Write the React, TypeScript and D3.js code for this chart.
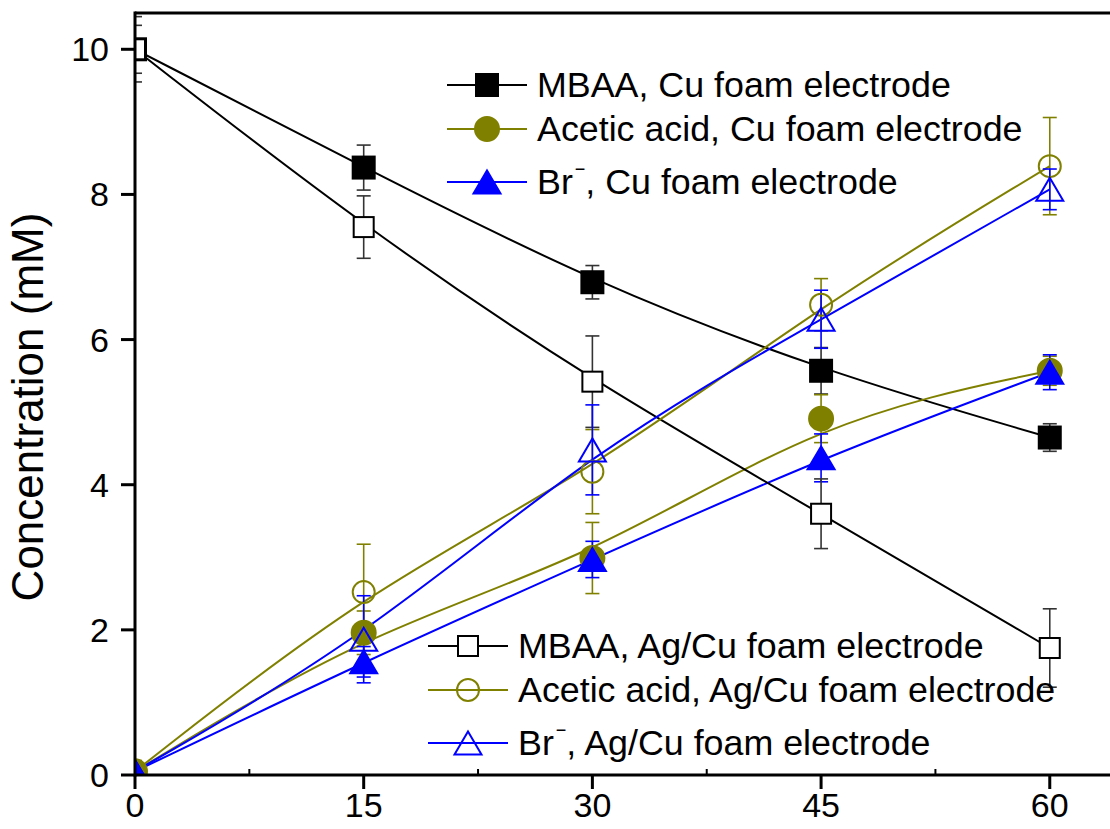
import React from 'react';
import * as d3 from 'd3';

const times = [0, 15, 30, 45, 60];
const xTicks = [0, 15, 30, 45, 60];
const xMinorTicks = [7.5, 22.5, 37.5, 52.5];
const yTicks = [0, 2, 4, 6, 8, 10];

const mbaaCu = [10, 8.37, 6.79, 5.57, 4.65];
const mbaaCuErr = [0.45, 0.31, 0.23, 0.32, 0.19];
const aceticCu = [0.05, 1.96, 2.99, 4.91, 5.57];
const aceticCuErr = [0.15, 0.3, 0.49, 0.33, 0.2];
const brCu = [0.05, 1.56, 2.97, 4.37, 5.55];
const brCuErr = [0.1, 0.21, 0.25, 0.33, 0.24];
const mbaaAg = [10, 7.55, 5.42, 3.6, 1.75];
const mbaaAgErr = [0.33, 0.43, 0.63, 0.48, 0.54];
const aceticAg = [0.05, 2.52, 4.18, 6.48, 8.39];
const aceticAgErr = [0.1, 0.66, 0.58, 0.36, 0.67];
const brAg = [0.05, 1.87, 4.48, 6.28, 8.07];
const brAgErr = [0.1, 0.6, 0.62, 0.4, 0.28];

type Shape = 'square' | 'circle' | 'triangle';

interface Series {
  name: string;
  sup?: string;
  rest?: string;
  values: number[];
  errors: number[];
  color: string;
  shape: Shape;
  filled: boolean;
}

const series: Series[] = [
  { name: 'MBAA, Cu foam electrode', values: mbaaCu, errors: mbaaCuErr, color: '#000000', shape: 'square', filled: true },
  { name: 'Acetic acid, Cu foam electrode', values: aceticCu, errors: aceticCuErr, color: '#808000', shape: 'circle', filled: true },
  { name: 'Br', sup: '\u2212', rest: ', Cu foam electrode', values: brCu, errors: brCuErr, color: '#0000ff', shape: 'triangle', filled: true },
  { name: 'MBAA, Ag/Cu foam electrode', values: mbaaAg, errors: mbaaAgErr, color: '#000000', shape: 'square', filled: false },
  { name: 'Acetic acid, Ag/Cu foam electrode', values: aceticAg, errors: aceticAgErr, color: '#808000', shape: 'circle', filled: false },
  { name: 'Br', sup: '\u2212', rest: ', Ag/Cu foam electrode', values: brAg, errors: brAgErr, color: '#0000ff', shape: 'triangle', filled: false },
];

const width = 1110;
const height = 829;
const margin = { top: 13, right: -16, bottom: 54, left: 135 };

const x = d3.scaleLinear().domain([0, 65]).range([margin.left, width - margin.right]);
const y = d3.scaleLinear().domain([0, 10.5]).range([height - margin.bottom, margin.top]);

const FONT = '"Liberation Sans", Arial, sans-serif';

const Marker: React.FC<{ cx: number; cy: number; s: Series }> = ({ cx, cy, s }) => {
  const fill = s.filled ? s.color : s.shape === 'square' ? '#ffffff' : 'none';
  if (s.shape === 'square') {
    const a = s.filled ? 22 : 20;
    return <rect x={cx - a / 2} y={cy - a / 2} width={a} height={a} fill={fill} stroke={s.color} strokeWidth={2} />;
  }
  if (s.shape === 'circle') {
    return <circle cx={cx} cy={cy} r={s.filled ? 12 : 11} fill={fill} stroke={s.color} strokeWidth={2} />;
  }
  const w = 27;
  const h = 23;
  const pts = `${cx},${cy - h / 2} ${cx + w / 2},${cy + h / 2} ${cx - w / 2},${cy + h / 2}`;
  return <polygon points={pts} fill={fill} stroke={s.color} strokeWidth={2} strokeLinejoin="miter" />;
};

const LegendLabel: React.FC<{ s: Series; tx: number; ty: number }> = ({ s, tx, ty }) => (
  <text x={tx} y={ty} fontSize={35.8} fontFamily={FONT} fill="#000">
    {s.sup ? (
      <>
        <tspan>{s.name}</tspan>
        <tspan fontSize={18} dy={-19} dx={2}>{s.sup}</tspan>
        <tspan dy={19}>{s.rest}</tspan>
      </>
    ) : (
      s.name
    )}
  </text>
);

const App: React.FC = () => {
  const line = d3
    .line<number>()
    .x((_, i) => x(times[i]))
    .y((d) => y(d))
    .curve(d3.curveBasis);

  const plotLeft = margin.left;
  const plotTop = margin.top;
  const plotBottom = height - margin.bottom;

  const legendTop = [85, 129, 182];
  const legendBottom = [646, 690, 743];

  return (
    <svg width={width} height={height} style={{ position: 'absolute', left: 0, top: 0, background: '#fff' }}>
      <defs>
        <clipPath id="plot-clip">
          <rect x={plotLeft} y={plotTop} width={width - plotLeft} height={plotBottom - plotTop} />
        </clipPath>
      </defs>
      <rect x={0} y={0} width={width} height={height} fill="#fff" />

      <g clipPath="url(#plot-clip)">
        {series.map((s, k) => (
          <path key={`l${k}`} d={line(s.values) || ''} fill="none" stroke={s.color} strokeWidth={2} />
        ))}
        {series.map((s, k) => (
          <g key={`e${k}`} stroke={s.color === '#000000' ? '#333333' : s.color} strokeWidth={1.6}>
            {s.values.map((v, i) => {
              const cx = x(times[i]);
              const y1 = y(v + s.errors[i]);
              const y2 = y(v - s.errors[i]);
              return (
                <g key={i}>
                  <line x1={cx} x2={cx} y1={y1} y2={y2} />
                  <line x1={cx - 7} x2={cx + 7} y1={y1} y2={y1} />
                  <line x1={cx - 7} x2={cx + 7} y1={y2} y2={y2} />
                </g>
              );
            })}
          </g>
        ))}
        {series.map((s, k) => (
          <g key={`m${k}`}>
            {s.values.map((v, i) => (
              <Marker key={i} cx={x(times[i])} cy={y(v)} s={s} />
            ))}
          </g>
        ))}
      </g>

      {/* axes frame */}
      <line x1={plotLeft} x2={width} y1={plotTop} y2={plotTop} stroke="#000" strokeWidth={3} />
      <line x1={plotLeft} x2={plotLeft} y1={plotTop - 1.5} y2={plotBottom + 1.5} stroke="#000" strokeWidth={3} />
      <line x1={plotLeft} x2={width} y1={plotBottom} y2={plotBottom} stroke="#000" strokeWidth={3} />

      {/* y ticks */}
      {yTicks.map((t) => (
        <g key={`yt${t}`}>
          <line x1={plotLeft - 14} x2={plotLeft} y1={y(t)} y2={y(t)} stroke="#000" strokeWidth={3} />
          <text x={plotLeft - 26} y={y(t) + 12} fontSize={34} fontFamily={FONT} textAnchor="end">
            {t}
          </text>
        </g>
      ))}

      {/* x ticks */}
      {xTicks.map((t) => (
        <g key={`xt${t}`}>
          <line x1={x(t)} x2={x(t)} y1={plotBottom} y2={plotBottom + 14} stroke="#000" strokeWidth={3} />
          <text x={x(t)} y={plotBottom + 42} fontSize={34} fontFamily={FONT} textAnchor="middle">
            {t}
          </text>
        </g>
      ))}
      {xMinorTicks.map((t) => (
        <line key={`xm${t}`} x1={x(t)} x2={x(t)} y1={plotBottom} y2={plotBottom - 6} stroke="#000" strokeWidth={2} />
      ))}

      <text
        transform={`translate(${43},${(plotTop + plotBottom) / 2 + 13}) rotate(-90)`}
        fontSize={44}
        fontFamily={FONT}
        textAnchor="middle"
      >
        Concentration (mM)
      </text>

      {/* legends */}
      {series.map((s, k) => {
        const top = k < 3;
        const ly = top ? legendTop[k] : legendBottom[k - 3];
        const lx0 = top ? 447 : 428;
        const lx1 = top ? 527 : 508;
        const tx = top ? 537 : 518;
        return (
          <g key={`lg${k}`}>
            <line x1={lx0} x2={lx1} y1={ly} y2={ly} stroke={s.color} strokeWidth={2} />
            <Marker cx={(lx0 + lx1) / 2} cy={ly} s={s} />
            <LegendLabel s={s} tx={tx} ty={ly + 12} />
          </g>
        );
      })}
    </svg>
  );
};

export default App;
